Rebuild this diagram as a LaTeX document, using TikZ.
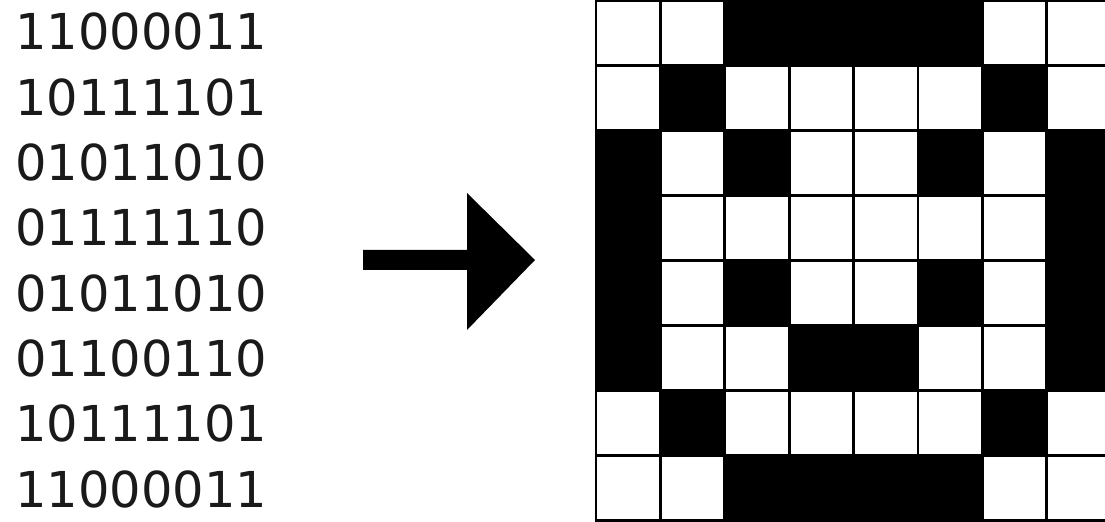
\documentclass[tikz,border=0pt]{standalone}
\usepackage{fontspec}
\usepackage{xstring}
\newfontfamily\bitfont{DejaVu Sans}
\usetikzlibrary{positioning}
\definecolor{inkCol}{HTML}{000000}
\definecolor{paperCol}{HTML}{FFFFFF}
\definecolor{textCol}{HTML}{1A1A1A}
\tikzset{
  bitrow/.style={
    anchor=base west, inner sep=0pt, text=textCol,
    font=\bitfont\fontsize{35.2}{35.2}\selectfont,
  },
  pixelon/.style={draw=inkCol, fill=paperCol, line width=1.9pt},
  pixeloff/.style={draw=inkCol, fill=inkCol, line width=1.9pt},
  bigarrow/.style={fill=inkCol},
}

\begin{document}
\begin{tikzpicture}[x=0.025cm, y=0.025cm]

  \useasboundingbox[fill=paperCol] (0, 0) rectangle (1105, 521);

  % Bit rows
  \foreach \bits [count=\r] in {11000011, 10111101, 01011010, 01111110,
                                01011010, 01100110, 10111101, 11000011} {
    \node[bitrow] (row\r) at (15, {471 - 65.3*(\r-1)}) {\bits};

    % Pixels of that row
    \foreach \c in {1,...,8} {
      \StrChar{\bits}{\c}[\bit]
      \IfStrEq{\bit}{1}{\def\look{pixelon}}{\def\look{pixeloff}}
      \draw[\look] ({596 + 64.4*(\c-1)}, {520.5 - 65*(\r-1)})
        rectangle ({596 + 64.4*\c}, {520.5 - 65*\r});
    }
  }

  % Arrow
  \fill[bigarrow] (363, 251) -- (467, 251) -- (467, 191) -- (535, 261)
    -- (467, 328) -- (467, 271) -- (363, 271) -- cycle;

\end{tikzpicture}
\end{document}
